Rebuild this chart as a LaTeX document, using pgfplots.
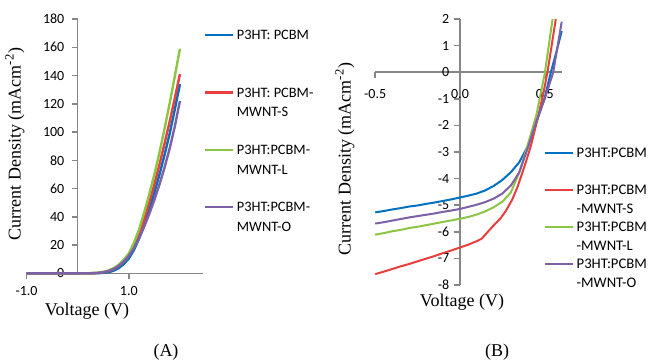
\documentclass[border=0pt]{standalone}
\usepackage{fontspec}
\setmainfont{Liberation Serif}
\newfontfamily\calfont{Carlito}
\usepackage{pgfplots}
\pgfplotsset{compat=1.18}
\definecolor{cblue}{RGB}{0,112,192}
\definecolor{cred}{RGB}{232,62,62}
\definecolor{cgreen}{RGB}{140,196,70}
\definecolor{cpurple}{RGB}{126,96,166}
\definecolor{axgray}{RGB}{134,134,134}
\pgfplotsset{
  myax/.style={
    scale only axis,
    axis lines=middle,
    axis line style={axgray, line width=1.1pt},
    every inner x axis line/.append style={-},
    every inner y axis line/.append style={-},
    tick style={axgray, line width=1.1pt},
    tick align=outside,
    major tick length=4.5pt,
    hide obscured x ticks=false,
    hide obscured y ticks=false,
    /pgf/number format/assume math mode=true,
    tick label style={font=\calfont\fontsize{10.5}{12}\selectfont, text=black},
    clip=false,
    legend style={draw=none, fill=none, inner sep=0pt, outer sep=0pt,
      anchor=north west, column sep=2pt, cells={anchor=base west},
      nodes={inner sep=0pt}},
    legend image code/.code={\draw[##1] (0pt,3.5pt) -- (21pt,3.5pt);},
  }
}
\begin{document}
\begin{tikzpicture}
\path[use as bounding box] (0,0) rectangle (487.5pt,273pt);
% ---------------- Panel A
\begin{axis}[myax,
  at={(19.9pt,68pt)}, anchor=south west,
  width=132.3pt, height=190.7pt,
  xmin=-1, xmax=2.45, ymin=0, ymax=180,
  xtick={-1,1}, ytick={0,20,...,180},
  xticklabel style={yshift=-2pt, /pgf/number format/fixed, /pgf/number format/fixed zerofill, /pgf/number format/precision=1},
  yticklabel style={xshift=-2pt},
  every axis plot/.append style={line width=1.8pt},
  legend style={at={(1.005,0.955)}, row sep=34.5pt,
    font=\calfont\fontsize{10.8}{14.6}\selectfont},
]
\addplot[cblue] coordinates {(-1,0) (0,0) (0.3,0.02) (0.4,0.1) (0.5,0.3) (0.6,0.8) (0.7,1.8) (0.8,3.6) (0.9,6.5) (1.0,10.5) (1.1,16.5) (1.2,24.5) (1.3,34) (1.4,45) (1.5,57) (1.6,70) (1.7,84) (1.8,99) (1.9,116) (2.0,134)};
\addlegendentry{\vtop{\hbox{P3HT: PCBM}\hbox{}}}
\addplot[cred] coordinates {(-1,0) (0,0) (0.3,0.1) (0.4,0.3) (0.5,0.7) (0.6,1.5) (0.7,2.9) (0.8,5) (0.9,8.3) (1.0,12.5) (1.1,19) (1.2,27.5) (1.3,38) (1.4,50) (1.5,63) (1.6,77) (1.7,92) (1.8,107.5) (1.9,124) (2.0,141)};
\addlegendentry{\vtop{\hbox{P3HT: PCBM-}\hbox{MWNT-S}}}
\addplot[cgreen] coordinates {(-1,0) (0,0) (0.2,0.05) (0.3,0.2) (0.4,0.5) (0.5,1.0) (0.6,2.0) (0.7,3.6) (0.8,6) (0.9,9.5) (1.0,14) (1.1,21.5) (1.2,31) (1.3,43) (1.4,56) (1.5,70) (1.6,85.5) (1.7,102.5) (1.8,120.5) (1.9,139.5) (2.0,159)};
\addlegendentry{\vtop{\hbox{P3HT:PCBM-}\hbox{MWNT-L}}}
\addplot[cpurple] coordinates {(-1,0) (0,0) (0.3,0.1) (0.4,0.3) (0.5,0.8) (0.6,1.6) (0.7,3) (0.8,5.2) (0.9,8.3) (1.0,12.3) (1.1,17.8) (1.2,24.8) (1.3,33) (1.4,42) (1.5,52) (1.6,63) (1.7,75) (1.8,88.5) (1.9,104) (2.0,122)};
\addlegendentry{\vtop{\hbox{P3HT:PCBM-}\hbox{MWNT-O}}}
\end{axis}
% ---------------- Panel B
\begin{axis}[myax,
  at={(281.4pt,59.25pt)}, anchor=south west,
  width=139.9pt, height=199.5pt,
  xmin=-0.5, xmax=0.6, ymin=-8, ymax=2,
  xtick={-0.5,0,0.5}, ytick={-8,-7,...,2},
  xticklabel style={yshift=-5pt, /pgf/number format/fixed, /pgf/number format/fixed zerofill, /pgf/number format/precision=1},
  every axis plot/.append style={line width=1.5pt},
  legend style={at={(0.905,0.515)}, row sep=19.2pt,
    font=\calfont\fontsize{11}{14.1}\selectfont},
]
\addplot[cblue] coordinates {(-0.50,-5.27) (-0.45,-5.22) (-0.40,-5.16) (-0.35,-5.11) (-0.30,-5.05) (-0.25,-5.01) (-0.20,-4.95) (-0.15,-4.90) (-0.10,-4.84) (-0.05,-4.78) (0.00,-4.71) (0.05,-4.64) (0.10,-4.56) (0.15,-4.44) (0.20,-4.27) (0.25,-4.05) (0.30,-3.76) (0.35,-3.38) (0.40,-2.78) (0.45,-1.90) (0.50,-0.95) (0.536,0.0) (0.57,0.8) (0.60,1.55)};
\addlegendentry{\vtop{\hbox{P3HT:PCBM}\hbox{}}}
\addplot[cred] coordinates {(-0.50,-7.59) (-0.45,-7.50) (-0.40,-7.40) (-0.35,-7.30) (-0.30,-7.21) (-0.25,-7.11) (-0.20,-7.01) (-0.15,-6.91) (-0.10,-6.80) (-0.05,-6.70) (0.00,-6.59) (0.05,-6.48) (0.10,-6.35) (0.13,-6.25) (0.15,-6.10) (0.20,-5.75) (0.238,-5.50) (0.27,-5.22) (0.308,-4.79) (0.34,-4.30) (0.367,-3.79) (0.39,-3.35) (0.417,-2.79) (0.456,-1.79) (0.49,-0.85) (0.516,0.0) (0.565,2.0)};
\addlegendentry{\vtop{\hbox{P3HT:PCBM}\hbox{-MWNT-S}}}
\addplot[cgreen] coordinates {(-0.50,-6.11) (-0.45,-6.05) (-0.40,-5.98) (-0.35,-5.93) (-0.30,-5.86) (-0.25,-5.81) (-0.20,-5.75) (-0.15,-5.69) (-0.10,-5.63) (-0.05,-5.57) (0.00,-5.51) (0.05,-5.44) (0.10,-5.35) (0.15,-5.23) (0.20,-5.07) (0.25,-4.87) (0.30,-4.52) (0.35,-3.76) (0.40,-2.72) (0.45,-1.62) (0.50,-0.05) (0.546,2.0)};
\addlegendentry{\vtop{\hbox{P3HT:PCBM}\hbox{-MWNT-L}}}
\addplot[cpurple] coordinates {(-0.50,-5.69) (-0.45,-5.64) (-0.40,-5.58) (-0.35,-5.52) (-0.30,-5.46) (-0.25,-5.41) (-0.20,-5.36) (-0.15,-5.31) (-0.10,-5.25) (-0.05,-5.20) (0.00,-5.14) (0.05,-5.06) (0.10,-4.98) (0.15,-4.88) (0.20,-4.75) (0.25,-4.56) (0.30,-4.26) (0.35,-3.76) (0.40,-2.85) (0.45,-1.85) (0.50,-1.0) (0.55,0.0) (0.60,1.9)};
\addlegendentry{\vtop{\hbox{P3HT:PCBM}\hbox{-MWNT-O}}}
\end{axis}
% ---------------- titles
\node[rotate=90, font=\fontsize{13.5}{16}\selectfont] at (11.25pt,165pt) {Current Density (mAcm\textsuperscript{-2})};
\node[rotate=90, font=\fontsize{13.5}{16}\selectfont] at (258.75pt,153.75pt) {Current Density (mAcm\textsuperscript{-2})};
\node[font=\fontsize{13.5}{16}\selectfont] at (65.25pt,39.75pt) {Voltage (V)};
\node[font=\fontsize{13.5}{16}\selectfont] at (346.5pt,46.5pt) {Voltage (V)};
\node[font=\fontsize{13.5}{16}\selectfont] at (124.5pt,9pt) {(A)};
\node[font=\fontsize{13.5}{16}\selectfont] at (372.75pt,9pt) {(B)};
\end{tikzpicture}
\end{document}
